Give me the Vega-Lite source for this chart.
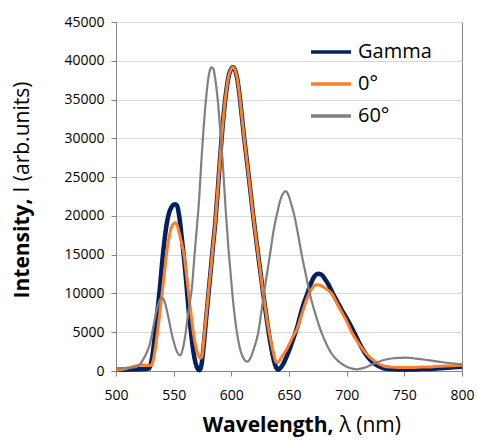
{
 "$schema": "https://vega.github.io/schema/vega-lite/v6.json",
 "width": 346,
 "height": 349,
 "autosize": {"type": "none"},
 "padding": {"left": 116, "top": 22, "right": 16, "bottom": 73},
 "background": "white",
 "config": {
  "font": "Open Sans",
  "view": {"stroke": "#868686", "strokeWidth": 1},
  "axis": {"labelFont": "Open Sans", "labelFontSize": 14, "labelColor": "#000000", "tickColor": "#868686", "domainColor": "#868686", "tickSize": 5, "titleFont": "Open Sans", "titleColor": "#000000", "titleFontSize": 21, "gridColor": "#d9d9d9", "labelFlush": false}
 },
 "datasets": {
  "spec": [
   {"s":"Gamma","x":500,"y":150},{"s":"Gamma","x":505,"y":150},{"s":"Gamma","x":510,"y":180},{"s":"Gamma","x":515,"y":200},{"s":"Gamma","x":520,"y":220},{"s":"Gamma","x":525,"y":250},{"s":"Gamma","x":528,"y":300},{"s":"Gamma","x":530,"y":800},{"s":"Gamma","x":532,"y":2400},{"s":"Gamma","x":534,"y":5000},{"s":"Gamma","x":536,"y":7800},{"s":"Gamma","x":538,"y":10600},{"s":"Gamma","x":540,"y":14000},{"s":"Gamma","x":542,"y":16800},{"s":"Gamma","x":544,"y":19000},{"s":"Gamma","x":546,"y":20400},{"s":"Gamma","x":548,"y":21100},{"s":"Gamma","x":550,"y":21450},{"s":"Gamma","x":551.5,"y":21500},{"s":"Gamma","x":553,"y":21300},{"s":"Gamma","x":555,"y":19800},{"s":"Gamma","x":557,"y":17200},{"s":"Gamma","x":559,"y":14500},{"s":"Gamma","x":561,"y":11300},{"s":"Gamma","x":563,"y":7800},{"s":"Gamma","x":565,"y":5000},{"s":"Gamma","x":567,"y":2600},{"s":"Gamma","x":569,"y":1000},{"s":"Gamma","x":571,"y":250},{"s":"Gamma","x":572.5,"y":100},{"s":"Gamma","x":574,"y":700},{"s":"Gamma","x":576,"y":3200},{"s":"Gamma","x":578,"y":6500},{"s":"Gamma","x":580,"y":9700},{"s":"Gamma","x":582,"y":12800},{"s":"Gamma","x":584,"y":16000},{"s":"Gamma","x":586,"y":19000},{"s":"Gamma","x":588,"y":22800},{"s":"Gamma","x":590,"y":27000},{"s":"Gamma","x":592,"y":30800},{"s":"Gamma","x":594,"y":34000},{"s":"Gamma","x":596,"y":36500},{"s":"Gamma","x":598,"y":38200},{"s":"Gamma","x":600,"y":39000},{"s":"Gamma","x":601.5,"y":39150},{"s":"Gamma","x":603,"y":38900},{"s":"Gamma","x":605,"y":37800},{"s":"Gamma","x":607,"y":35700},{"s":"Gamma","x":609,"y":33000},{"s":"Gamma","x":611,"y":30200},{"s":"Gamma","x":613,"y":27700},{"s":"Gamma","x":615,"y":25200},{"s":"Gamma","x":617,"y":22600},{"s":"Gamma","x":619,"y":20000},{"s":"Gamma","x":621,"y":17600},{"s":"Gamma","x":623,"y":15300},{"s":"Gamma","x":625,"y":13000},{"s":"Gamma","x":627,"y":10700},{"s":"Gamma","x":629,"y":8500},{"s":"Gamma","x":631,"y":6400},{"s":"Gamma","x":633,"y":4400},{"s":"Gamma","x":635,"y":2700},{"s":"Gamma","x":637,"y":1300},{"s":"Gamma","x":639,"y":400},{"s":"Gamma","x":640.5,"y":150},{"s":"Gamma","x":642,"y":300},{"s":"Gamma","x":645,"y":900},{"s":"Gamma","x":648,"y":1900},{"s":"Gamma","x":651,"y":3000},{"s":"Gamma","x":654,"y":4300},{"s":"Gamma","x":657,"y":5600},{"s":"Gamma","x":660,"y":7300},{"s":"Gamma","x":663,"y":8800},{"s":"Gamma","x":666,"y":10000},{"s":"Gamma","x":669,"y":11300},{"s":"Gamma","x":672,"y":12200},{"s":"Gamma","x":675,"y":12550},{"s":"Gamma","x":678,"y":12450},{"s":"Gamma","x":681,"y":11900},{"s":"Gamma","x":684,"y":11200},{"s":"Gamma","x":688,"y":10000},{"s":"Gamma","x":692,"y":8900},{"s":"Gamma","x":696,"y":7800},{"s":"Gamma","x":700,"y":6800},{"s":"Gamma","x":704,"y":5700},{"s":"Gamma","x":708,"y":4500},{"s":"Gamma","x":712,"y":3300},{"s":"Gamma","x":716,"y":2300},{"s":"Gamma","x":720,"y":1500},{"s":"Gamma","x":724,"y":950},{"s":"Gamma","x":728,"y":600},{"s":"Gamma","x":732,"y":350},{"s":"Gamma","x":738,"y":250},{"s":"Gamma","x":745,"y":200},{"s":"Gamma","x":755,"y":200},{"s":"Gamma","x":765,"y":250},{"s":"Gamma","x":775,"y":300},{"s":"Gamma","x":785,"y":400},{"s":"Gamma","x":800,"y":550},
   {"s":"0°","x":500,"y":100},{"s":"0°","x":505,"y":200},{"s":"0°","x":510,"y":350},{"s":"0°","x":515,"y":600},{"s":"0°","x":520,"y":750},{"s":"0°","x":524,"y":780},{"s":"0°","x":527,"y":700},{"s":"0°","x":530,"y":700},{"s":"0°","x":532,"y":1200},{"s":"0°","x":534,"y":2800},{"s":"0°","x":536,"y":5000},{"s":"0°","x":538,"y":7400},{"s":"0°","x":540,"y":10000},{"s":"0°","x":542,"y":12700},{"s":"0°","x":544,"y":15300},{"s":"0°","x":546,"y":17200},{"s":"0°","x":548,"y":18500},{"s":"0°","x":550,"y":19000},{"s":"0°","x":551.5,"y":19100},{"s":"0°","x":553,"y":18800},{"s":"0°","x":555,"y":17700},{"s":"0°","x":557,"y":16400},{"s":"0°","x":559,"y":15000},{"s":"0°","x":561,"y":12600},{"s":"0°","x":563,"y":10000},{"s":"0°","x":565,"y":7400},{"s":"0°","x":567,"y":5000},{"s":"0°","x":569,"y":3300},{"s":"0°","x":571,"y":2200},{"s":"0°","x":573,"y":1650},{"s":"0°","x":574.5,"y":1800},{"s":"0°","x":576,"y":3800},{"s":"0°","x":578,"y":6800},{"s":"0°","x":580,"y":9900},{"s":"0°","x":582,"y":12800},{"s":"0°","x":584,"y":16000},{"s":"0°","x":586,"y":19000},{"s":"0°","x":588,"y":22800},{"s":"0°","x":590,"y":27000},{"s":"0°","x":592,"y":30800},{"s":"0°","x":594,"y":34000},{"s":"0°","x":596,"y":36500},{"s":"0°","x":598,"y":38200},{"s":"0°","x":600,"y":39000},{"s":"0°","x":601.5,"y":39150},{"s":"0°","x":603,"y":38900},{"s":"0°","x":605,"y":37800},{"s":"0°","x":607,"y":35700},{"s":"0°","x":609,"y":33000},{"s":"0°","x":611,"y":30200},{"s":"0°","x":613,"y":27700},{"s":"0°","x":615,"y":25200},{"s":"0°","x":617,"y":22600},{"s":"0°","x":619,"y":20000},{"s":"0°","x":621,"y":17600},{"s":"0°","x":623,"y":15300},{"s":"0°","x":625,"y":13000},{"s":"0°","x":627,"y":10700},{"s":"0°","x":629,"y":8600},{"s":"0°","x":631,"y":6600},{"s":"0°","x":633,"y":4800},{"s":"0°","x":635,"y":3300},{"s":"0°","x":637,"y":2000},{"s":"0°","x":638.7,"y":1150},{"s":"0°","x":640.5,"y":1100},{"s":"0°","x":642,"y":1400},{"s":"0°","x":645,"y":2100},{"s":"0°","x":648,"y":2800},{"s":"0°","x":651,"y":3700},{"s":"0°","x":654,"y":4600},{"s":"0°","x":657,"y":5400},{"s":"0°","x":660,"y":6800},{"s":"0°","x":663,"y":8200},{"s":"0°","x":666,"y":9500},{"s":"0°","x":669,"y":10400},{"s":"0°","x":672,"y":11000},{"s":"0°","x":674,"y":11120},{"s":"0°","x":677,"y":11050},{"s":"0°","x":680,"y":10800},{"s":"0°","x":684,"y":10400},{"s":"0°","x":687,"y":10000},{"s":"0°","x":691,"y":8900},{"s":"0°","x":695,"y":7800},{"s":"0°","x":700,"y":6400},{"s":"0°","x":704,"y":5100},{"s":"0°","x":708,"y":4100},{"s":"0°","x":712,"y":3200},{"s":"0°","x":716,"y":2400},{"s":"0°","x":720,"y":1800},{"s":"0°","x":724,"y":1300},{"s":"0°","x":728,"y":900},{"s":"0°","x":732,"y":650},{"s":"0°","x":738,"y":500},{"s":"0°","x":745,"y":450},{"s":"0°","x":755,"y":450},{"s":"0°","x":765,"y":500},{"s":"0°","x":775,"y":550},{"s":"0°","x":785,"y":650},{"s":"0°","x":800,"y":750},
   {"s":"60°","x":500,"y":350},{"s":"60°","x":505,"y":380},{"s":"60°","x":510,"y":400},{"s":"60°","x":515,"y":450},{"s":"60°","x":518,"y":550},{"s":"60°","x":521,"y":900},{"s":"60°","x":524,"y":1600},{"s":"60°","x":527,"y":2500},{"s":"60°","x":529,"y":3300},{"s":"60°","x":531,"y":4600},{"s":"60°","x":533,"y":6200},{"s":"60°","x":535,"y":7700},{"s":"60°","x":537,"y":8800},{"s":"60°","x":539.5,"y":9450},{"s":"60°","x":542,"y":9000},{"s":"60°","x":544,"y":7900},{"s":"60°","x":546,"y":6500},{"s":"60°","x":548,"y":5000},{"s":"60°","x":550,"y":3800},{"s":"60°","x":552,"y":2800},{"s":"60°","x":554,"y":2200},{"s":"60°","x":555.8,"y":2000},{"s":"60°","x":558,"y":2900},{"s":"60°","x":560,"y":4500},{"s":"60°","x":562,"y":6800},{"s":"60°","x":564,"y":8800},{"s":"60°","x":566,"y":11000},{"s":"60°","x":568,"y":14800},{"s":"60°","x":570,"y":18300},{"s":"60°","x":572,"y":22000},{"s":"60°","x":574,"y":27000},{"s":"60°","x":576,"y":31400},{"s":"60°","x":578,"y":35000},{"s":"60°","x":580,"y":37700},{"s":"60°","x":582,"y":39000},{"s":"60°","x":583,"y":39150},{"s":"60°","x":584.5,"y":38900},{"s":"60°","x":586.5,"y":37200},{"s":"60°","x":588.5,"y":34500},{"s":"60°","x":590.5,"y":30800},{"s":"60°","x":592.5,"y":27000},{"s":"60°","x":595,"y":21000},{"s":"60°","x":597.5,"y":15800},{"s":"60°","x":600,"y":11500},{"s":"60°","x":602,"y":8300},{"s":"60°","x":604.5,"y":5300},{"s":"60°","x":607,"y":3200},{"s":"60°","x":610,"y":1800},{"s":"60°","x":613.8,"y":1200},{"s":"60°","x":617,"y":1800},{"s":"60°","x":620,"y":3100},{"s":"60°","x":623.4,"y":5000},{"s":"60°","x":626,"y":7600},{"s":"60°","x":628.3,"y":10000},{"s":"60°","x":631,"y":12600},{"s":"60°","x":633.5,"y":15000},{"s":"60°","x":636,"y":17500},{"s":"60°","x":638,"y":19200},{"s":"60°","x":640,"y":20500},{"s":"60°","x":642,"y":21800},{"s":"60°","x":644.5,"y":22800},{"s":"60°","x":647,"y":23200},{"s":"60°","x":649.5,"y":22700},{"s":"60°","x":652,"y":21500},{"s":"60°","x":655,"y":19800},{"s":"60°","x":658,"y":17500},{"s":"60°","x":661,"y":15000},{"s":"60°","x":664.5,"y":12500},{"s":"60°","x":668,"y":10000},{"s":"60°","x":673,"y":7300},{"s":"60°","x":678,"y":5000},{"s":"60°","x":683,"y":3300},{"s":"60°","x":688,"y":2000},{"s":"60°","x":694,"y":1100},{"s":"60°","x":700,"y":560},{"s":"60°","x":705,"y":300},{"s":"60°","x":709,"y":220},{"s":"60°","x":715,"y":400},{"s":"60°","x":720,"y":700},{"s":"60°","x":726,"y":1100},{"s":"60°","x":733,"y":1450},{"s":"60°","x":740,"y":1640},{"s":"60°","x":746,"y":1700},{"s":"60°","x":752,"y":1720},{"s":"60°","x":760,"y":1600},{"s":"60°","x":768,"y":1450},{"s":"60°","x":775,"y":1300},{"s":"60°","x":785,"y":1100},{"s":"60°","x":800,"y":860}
  ]
 },
 "data": {"name": "spec"},
 "layer": [
  {
   "encoding": {
    "x": {"field": "x", "type": "quantitative", "scale": {"domain": [500, 800], "nice": false, "zero": false},
          "axis": {"values": [500, 550, 600, 650, 700, 750, 800], "grid": false, "labelPadding": 12, "title": "Wavelength,", "titleFontWeight": "bold", "titleAlign": "right", "titleX": 217, "titleY": 54, "titleBaseline": "middle"}},
    "y": {"field": "y", "type": "quantitative", "scale": {"domain": [0, 45000], "nice": false},
          "axis": {"orient": "left", "format": "d", "values": [0, 5000, 10000, 15000, 20000, 25000, 30000, 35000, 40000, 45000], "grid": true, "labelPadding": 7, "title": "Intensity,", "titleFontWeight": "bold", "titleAngle": 270, "titleAlign": "right", "titleX": -94, "titleY": 176, "titleBaseline": "middle"}},
    "color": {"field": "s", "type": "nominal", "scale": {"domain": ["Gamma", "0°", "60°"], "range": ["#002060", "#FF7F27", "#808080"]},
              "legend": {"orient": "none", "legendX": 193, "legendY": 8, "title": null, "symbolType": "stroke", "symbolSize": 1600, "symbolStrokeWidth": 3.5, "labelFontSize": 20, "labelFont": "Open Sans", "labelColor": "#000000", "rowPadding": 0, "labelOffset": 5, "padding": 0, "symbolOpacity": 1}}
   },
   "layer": [
    {"transform": [{"filter": "datum.s === 'Gamma'"}], "mark": {"type": "line", "interpolate": "monotone", "strokeWidth": 4.5}},
    {"transform": [{"filter": "datum.s === '0°'"}], "mark": {"type": "line", "interpolate": "monotone", "strokeWidth": 3}},
    {"transform": [{"filter": "datum.s === '60°'"}], "mark": {"type": "line", "interpolate": "monotone", "strokeWidth": 2.2}}
   ]
  },
  {
   "mark": {"type": "point", "opacity": 0},
   "encoding": {
    "x": {"field": "x", "type": "quantitative", "scale": {"domain": [500, 800], "nice": false, "zero": false},
          "axis": {"orient": "bottom", "labels": false, "ticks": false, "domain": false, "grid": false, "title": "λ (nm)", "titleFontWeight": "normal", "titleAlign": "left", "titleX": 223, "titleY": 54, "titleBaseline": "middle"}},
    "y": {"field": "y", "type": "quantitative", "scale": {"domain": [0, 45000], "nice": false},
          "axis": {"orient": "left", "labels": false, "ticks": false, "domain": false, "grid": false, "title": "I (arb.units)", "titleFontWeight": "normal", "titleAngle": 270, "titleAlign": "left", "titleX": -94, "titleY": 170, "titleBaseline": "middle"}}
   }
  }
 ],
 "resolve": {"scale": {"x": "independent", "y": "independent"}}
}
